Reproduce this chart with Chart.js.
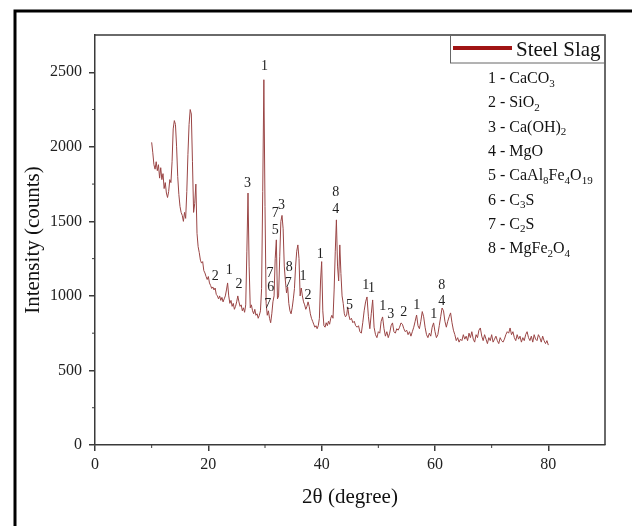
<!DOCTYPE html>
<html>
<head>
<meta charset="utf-8">
<script src="https://cdn.jsdelivr.net/npm/chart.js@4.4.1/dist/chart.umd.min.js"></script>
<style>
  html, body { margin: 0; padding: 0; background: #fff; }
</style>
</head>
<body>
<canvas id="xrd" width="632" height="526"></canvas>
<script>
// 2-theta positions (degrees) and intensity (counts)
var twoTheta = [
  10.0, 10.2, 10.4, 10.6, 10.8, 11.0, 11.2, 11.4, 11.6, 11.8,
  12.0, 12.2, 12.4, 12.6, 12.8, 13.0, 13.2, 13.4, 13.6, 13.8,
  14.0, 14.2, 14.4, 14.6, 14.8, 15.0, 15.2, 15.4, 15.6, 15.8,
  16.0, 16.2, 16.4, 16.6, 16.8, 17.0, 17.2, 17.4, 17.6, 17.8,
  18.0, 18.2, 18.4, 18.6, 18.8, 19.0, 19.2, 19.4, 19.6, 19.8,
  20.0, 20.2, 20.4, 20.6, 20.8, 21.0, 21.2, 21.4, 21.6, 21.8,
  22.0, 22.2, 22.4, 22.6, 22.8, 23.0, 23.2, 23.4, 23.6, 23.8,
  24.0, 24.2, 24.4, 24.6, 24.8, 25.0, 25.2, 25.4, 25.6, 25.8,
  26.0, 26.2, 26.4, 26.6, 26.8, 27.0, 27.2, 27.4, 27.6, 27.8,
  28.0, 28.2, 28.4, 28.6, 28.8, 29.0, 29.2, 29.4, 29.6, 29.8,
  30.0, 30.2, 30.4, 30.6, 30.8, 31.0, 31.2, 31.4, 31.6, 31.8,
  32.0, 32.2, 32.4, 32.6, 32.8, 33.0, 33.2, 33.4, 33.6, 33.8,
  34.0, 34.2, 34.4, 34.6, 34.8, 35.0, 35.2, 35.4, 35.6, 35.8,
  36.0, 36.2, 36.4, 36.6, 36.8, 37.0, 37.2, 37.4, 37.6, 37.8,
  38.0, 38.2, 38.4, 38.6, 38.8, 39.0, 39.2, 39.4, 39.6, 39.8,
  40.0, 40.2, 40.4, 40.6, 40.8, 41.0, 41.2, 41.4, 41.6, 41.8,
  42.0, 42.2, 42.4, 42.6, 42.8, 43.0, 43.2, 43.4, 43.6, 43.8,
  44.0, 44.2, 44.4, 44.6, 44.8, 45.0,
  45.25, 45.5, 45.75, 46.0, 46.25, 46.5, 46.75, 47.0, 47.25, 47.5,
  47.75, 48.0, 48.25, 48.5, 48.75, 49.0, 49.25, 49.5, 49.75, 50.0,
  50.25, 50.5, 50.75, 51.0, 51.25, 51.5, 51.75, 52.0, 52.25, 52.5,
  52.75, 53.0, 53.25, 53.5, 53.75, 54.0, 54.25, 54.5, 54.75, 55.0,
  55.25, 55.5, 55.75, 56.0, 56.25, 56.5, 56.75, 57.0, 57.25, 57.5,
  57.75, 58.0, 58.25, 58.5, 58.75, 59.0, 59.25, 59.5, 59.75, 60.0,
  60.25, 60.5, 60.75, 61.0, 61.25, 61.5, 61.75, 62.0, 62.25, 62.5,
  62.75, 63.0, 63.25, 63.5, 63.75, 64.0, 64.25, 64.5, 64.75, 65.0,
  65.25, 65.5, 65.75, 66.0, 66.25, 66.5, 66.75, 67.0, 67.25, 67.5,
  67.75, 68.0, 68.25, 68.5, 68.75, 69.0, 69.25, 69.5, 69.75, 70.0,
  70.25, 70.5, 70.75, 71.0, 71.25, 71.5, 71.75, 72.0, 72.25, 72.5,
  72.75, 73.0, 73.25, 73.5, 73.75, 74.0, 74.25, 74.5, 74.75, 75.0,
  75.25, 75.5, 75.75, 76.0, 76.25, 76.5, 76.75, 77.0, 77.25, 77.5,
  77.75, 78.0, 78.25, 78.5, 78.75, 79.0, 79.25, 79.5, 79.75, 80.0
];
var intensity = [
  2030, 1960, 1880, 1850, 1900, 1840, 1880, 1790, 1860, 1780,
  1820, 1720, 1760, 1690, 1660, 1700, 1780, 1760, 1900, 2120,
  2176, 2150, 2000, 1800, 1680, 1600, 1560, 1540, 1500, 1560,
  1520, 1700, 1950, 2150, 2250, 2220, 1900, 1560, 1620, 1750,
  1420, 1330, 1290, 1240, 1220, 1230, 1170, 1154, 1130, 1110,
  1130, 1087, 1070, 1050, 1060, 1040, 1053, 1010, 1000, 980,
  1000, 970, 990, 960, 980, 1000, 1040, 1087, 1000, 950,
  970, 930, 950, 910, 930, 960, 1000, 960, 930, 940,
  900, 920, 890, 940, 1300, 1690, 1200, 920, 940, 900,
  880, 910, 870, 880, 850, 870, 900, 1050, 1700, 2450,
  1600, 950, 870, 900, 850, 820, 880, 960, 1000, 1250,
  1376, 980, 1000, 1262, 1500, 1540, 1450, 1200, 1100, 1020,
  1060, 950, 900, 880, 920, 980, 1050, 1200, 1300, 1342,
  1250, 1000, 1053, 1000, 960, 940, 910, 930, 960, 930,
  880, 850, 830, 810, 790, 800, 780, 800, 850, 1100,
  1230, 900, 800, 790, 820, 800, 830, 810, 850, 870,
  850, 1040, 1300, 1510, 1200, 1100, 1342, 1150, 1000, 950,
  880, 860, 870, 926, 870, 840,
  850, 820, 830, 800, 790, 800, 760, 750, 820, 900,
  960, 993, 860, 780, 880, 973, 790, 740, 720, 760,
  750, 830, 859, 780, 730, 760, 720, 750, 800, 819,
  760, 750, 780, 770, 790, 819, 810, 780, 760, 770,
  740, 760, 730, 760, 790, 830, 872, 800, 780, 830,
  895, 860, 790, 740, 720, 750, 730, 790, 819, 760,
  720, 740, 800, 860, 919, 900, 830, 790, 830, 860,
  886, 820, 770, 740, 700, 720, 690, 710, 700, 740,
  710, 730, 700, 750, 720, 760, 710, 690, 740, 720,
  770, 785, 730, 700, 740, 710, 680, 720, 700, 740,
  690, 710, 730, 700, 680, 720, 700, 690, 710, 740,
  760, 750, 785, 740, 760, 720, 700, 740, 710, 730,
  690, 720, 700, 740, 760, 720, 700, 730, 690, 740,
  710, 700, 740, 720, 690, 730, 700, 680, 700, 670
];

// axis ticks
var xTickValues = [0, 20, 40, 60, 80];
var yTickValues = [0, 500, 1000, 1500, 2000, 2500];

// phase markers above the peaks
var peakTheta = [29.9, 26.9, 21.2, 23.7, 25.4, 31.8, 32.9, 31.8, 30.9, 31.0, 30.5, 34.3, 34.1, 36.7, 37.6,
                 39.75, 42.5, 42.5, 44.9, 47.8, 48.8, 50.8, 52.2, 54.5, 56.8, 59.8, 61.2, 61.2];
var peakLevel = [2537, 1752, 1128, 1174, 1081, 1557, 1610, 1438, 1154, 1060, 946, 1195, 1087, 1128, 1007,
                 1282, 1698, 1584, 935, 1069, 1053, 928, 879, 892, 935, 879, 1074, 966];
var peakLabel = ["1", "3", "2", "1", "2", "7", "3", "5", "7", "6", "7", "8", "7", "1", "2",
                 "1", "8", "4", "5", "1", "1", "1", "3", "2", "1", "1", "8", "4"];

var seriesName = "Steel Slag";
var phaseList = ["1 - CaCO_3", "2 - SiO_2", "3 - Ca(OH)_2", "4 - MgO", "5 - CaAl_8Fe_4O_19",
                 "6 - C_3S", "7 - C_2S", "8 - MgFe_2O_4"];

var serif = "'Liberation Serif', 'DejaVu Serif', serif";
var axisColor = "#3a3a3a";
var traceColor = "#9a4545";

function drawFormula(ctx, str, x, y, size) {
  var parts = str.split(/_(\d+)/);
  ctx.textAlign = "left";
  ctx.textBaseline = "alphabetic";
  for (var i = 0; i < parts.length; i++) {
    if (!parts[i]) continue;
    if (i % 2 === 1) {
      ctx.font = Math.round(size * 0.68) + "px " + serif;
      ctx.fillText(parts[i], x, y + size * 0.22);
    } else {
      ctx.font = size + "px " + serif;
      ctx.fillText(parts[i], x, y);
    }
    x += ctx.measureText(parts[i]).width;
  }
}

var decorations = {
  id: "decorations",
  afterDraw: function(chart) {
    var ctx = chart.ctx;
    var a = chart.chartArea;
    var xs = chart.scales.x, ys = chart.scales.y;
    ctx.save();

    // top and right frame of the plot
    ctx.strokeStyle = axisColor;
    ctx.lineWidth = 1.5;
    ctx.beginPath();
    ctx.moveTo(a.left, a.top); ctx.lineTo(a.right, a.top); ctx.lineTo(a.right, a.bottom);
    ctx.stroke();

    // minor ticks
    ctx.lineWidth = 1;
    ctx.beginPath();
    for (var v = 10; v < 90; v += 20) {
      var px = xs.getPixelForValue(v);
      ctx.moveTo(px, a.bottom); ctx.lineTo(px, a.bottom + 3);
    }
    for (var w = 250; w < 2750; w += 500) {
      var py = ys.getPixelForValue(w);
      ctx.moveTo(a.left, py); ctx.lineTo(a.left - 3, py);
    }
    ctx.stroke();

    // peak markers
    ctx.fillStyle = "#222";
    ctx.font = "14px " + serif;
    ctx.textAlign = "center";
    ctx.textBaseline = "middle";
    for (var i = 0; i < peakLabel.length; i++) {
      ctx.fillText(peakLabel[i], xs.getPixelForValue(peakTheta[i]), ys.getPixelForValue(peakLevel[i]));
    }

    // legend
    ctx.strokeStyle = "#666";
    ctx.lineWidth = 1;
    ctx.strokeRect(450.5, a.top, a.right - 450.5, 28);
    ctx.strokeStyle = "#a01414";
    ctx.lineWidth = 4;
    ctx.beginPath();
    ctx.moveTo(453, a.top + 13); ctx.lineTo(512, a.top + 13);
    ctx.stroke();
    ctx.fillStyle = "#111";
    ctx.font = "21px " + serif;
    ctx.textAlign = "left";
    ctx.textBaseline = "alphabetic";
    ctx.fillText(seriesName, 516, a.top + 21);
    for (var k = 0; k < phaseList.length; k++) {
      drawFormula(ctx, phaseList[k], 488, 83 + k * 24.3, 16);
    }

    // axis titles
    ctx.fillStyle = "#111";
    ctx.font = "21px " + serif;
    ctx.textAlign = "center";
    ctx.textBaseline = "middle";
    ctx.fillText("2\u03b8 (degree)", (a.left + a.right) / 2, 497);
    ctx.translate(33, (a.top + a.bottom) / 2);
    ctx.rotate(-Math.PI / 2);
    ctx.fillText("Intensity (counts)", 0, 0);
    ctx.restore();

    // outer frame of the figure
    ctx.save();
    ctx.strokeStyle = "#000";
    ctx.lineWidth = 3;
    ctx.beginPath();
    ctx.moveTo(15, 530); ctx.lineTo(15, 11); ctx.lineTo(640, 11);
    ctx.stroke();
    ctx.restore();
  }
};

var points = twoTheta.map(function(t, i) { return { x: t, y: intensity[i] }; });

function fixedTicks(values) {
  return function(scale) {
    scale.ticks = values.map(function(v) { return { value: v }; });
  };
}

new Chart(document.getElementById("xrd"), {
  type: "scatter",
  data: {
    datasets: [{
      label: seriesName,
      data: points,
      showLine: true,
      borderColor: traceColor,
      borderWidth: 1,
      pointRadius: 0,
      tension: 0
    }]
  },
  options: {
    responsive: false,
    animation: false,
    devicePixelRatio: 1,
    layout: { padding: { left: 0, top: 35, right: 27, bottom: 0 } },
    plugins: { legend: { display: false }, tooltip: { enabled: false } },
    scales: {
      x: {
        type: "linear", min: 0, max: 90,
        afterBuildTicks: fixedTicks(xTickValues),
        ticks: { color: "#222", padding: 4, maxRotation: 0, autoSkip: false,
                 callback: function(v) { return String(v); },
                 font: { family: serif, size: 16 } },
        grid: { drawOnChartArea: false, drawTicks: true, tickLength: 6, color: axisColor, lineWidth: 1.5 },
        border: { display: true, color: axisColor, width: 1.5 },
        afterFit: function(s) { s.height = 81; }
      },
      y: {
        type: "linear", min: 0, max: 2750,
        afterBuildTicks: fixedTicks(yTickValues),
        ticks: { color: "#222", padding: 7, autoSkip: false,
                 callback: function(v) { return String(v); },
                 font: { family: serif, size: 16 } },
        grid: { drawOnChartArea: false, drawTicks: true, tickLength: 6, color: axisColor, lineWidth: 1.5 },
        border: { display: true, color: axisColor, width: 1.5 },
        afterFit: function(s) { s.width = 95; }
      }
    }
  },
  plugins: [decorations]
});
</script>
</body>
</html>
